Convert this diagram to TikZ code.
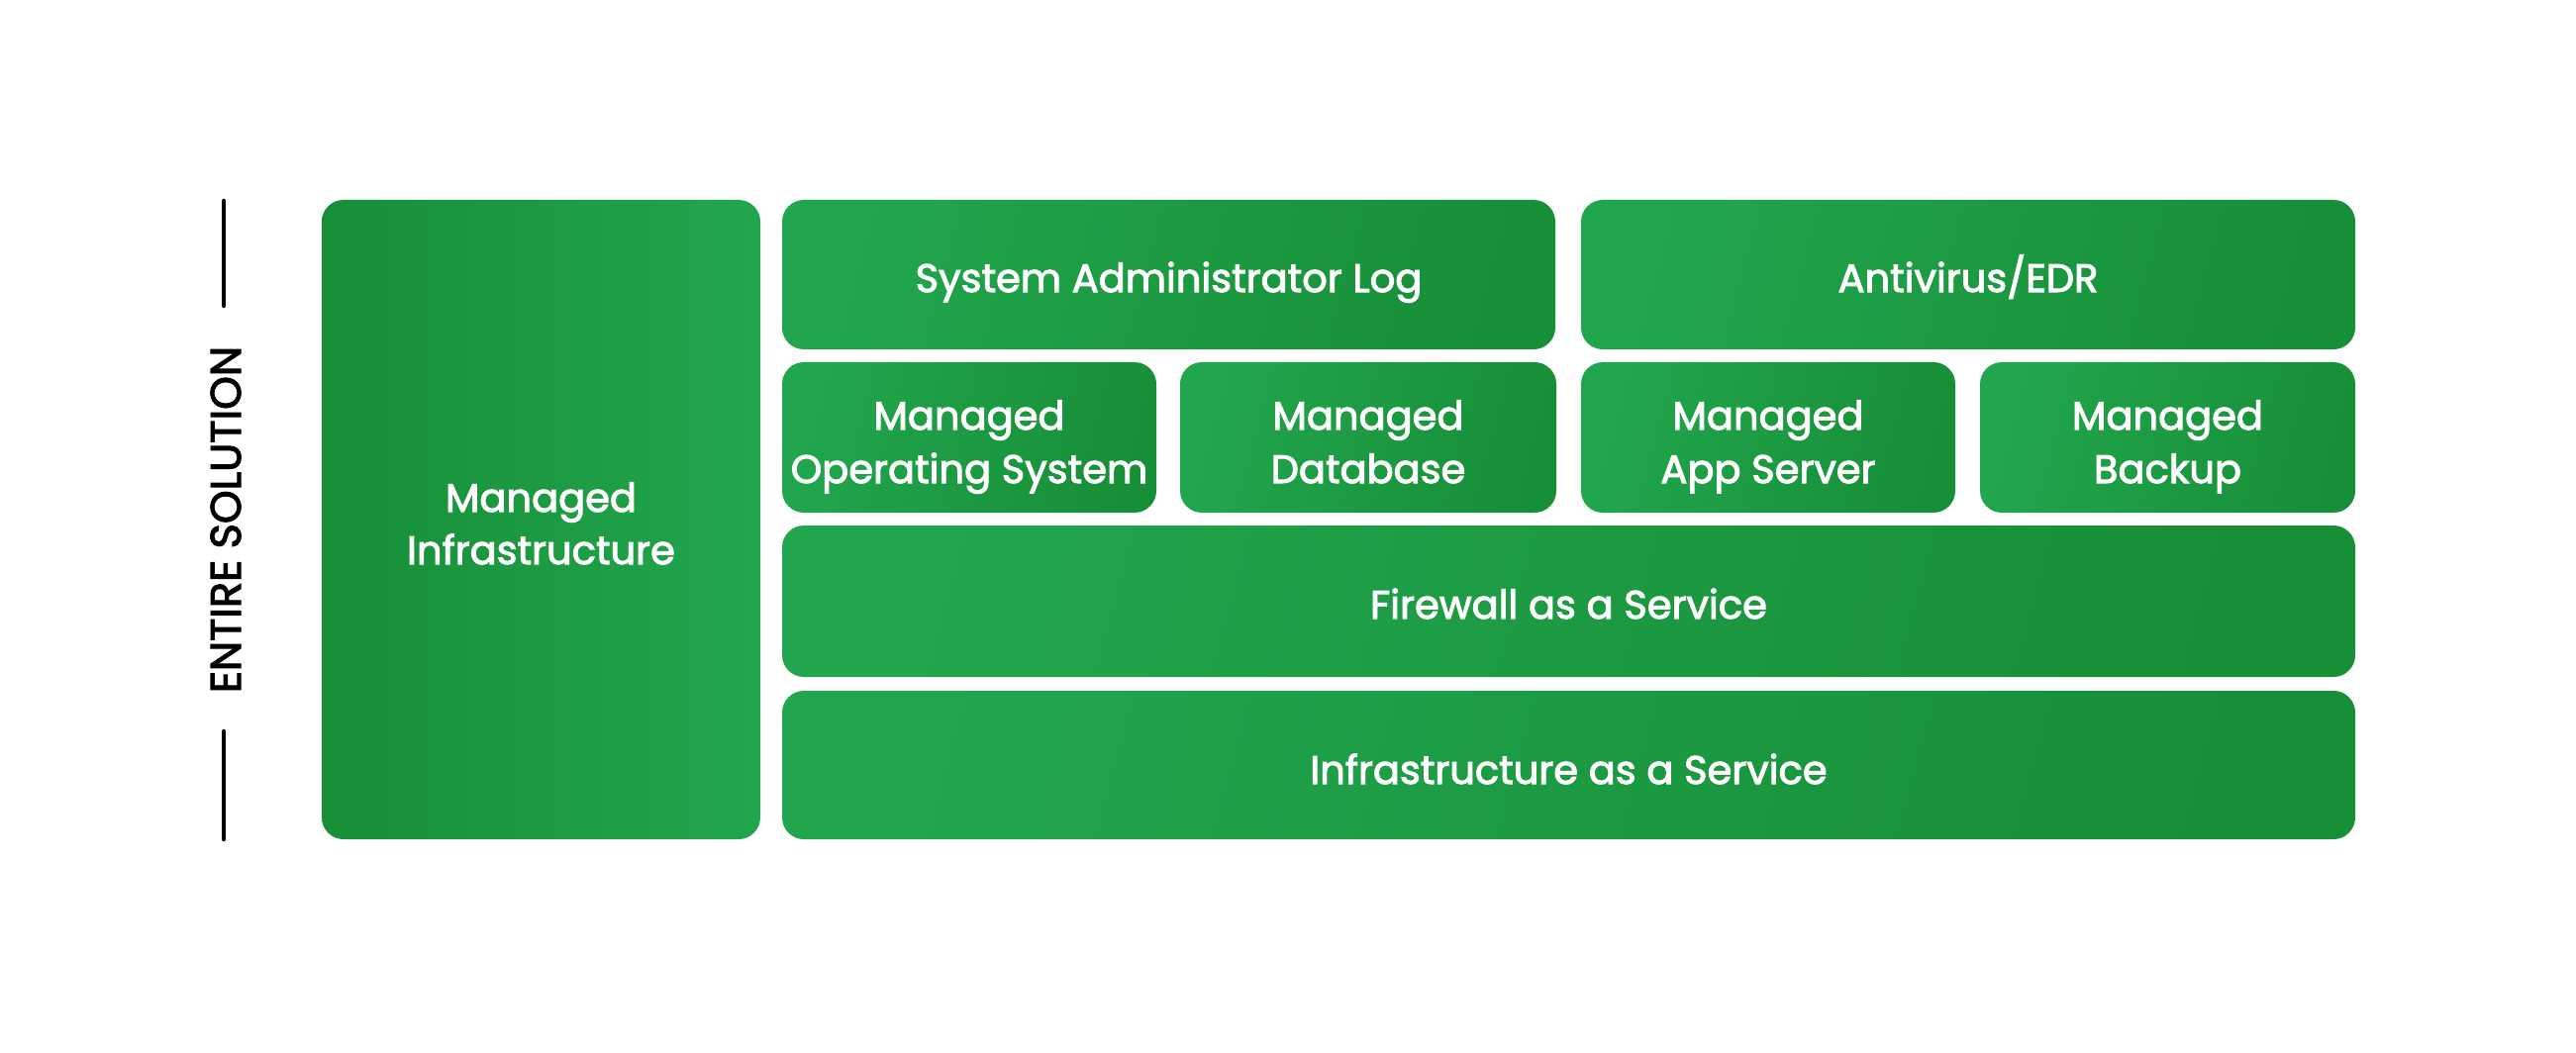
\documentclass[tikz,border=0pt]{standalone}
\usepackage{fontspec}
\setmainfont{Poppins}
\newfontfamily\medfont{Poppins}[FakeBold=2.5]
\definecolor{glight}{HTML}{21A64D}
\definecolor{gdark}{HTML}{178F37}
\tikzset{
  blk/.style={rounded corners=22pt, inner sep=0pt, left color=glight, right color=gdark, shading angle=75},
  blkl/.style={blk, left color=gdark, right color=glight, shading angle=90},
  txt/.style={inner sep=0pt, anchor=base, text=white, align=center, font=\medfont\fontsize{40}{54}\selectfont},
  sidebar/.style={line width=4.5pt, line cap=round, black}
}
\begin{document}
\begin{tikzpicture}[x=1pt,y=-1pt]
\useasboundingbox (0,0) rectangle (2602,1064);
% left sidebar
\coordinate (t1) at (226,203);
\coordinate (t2) at (226,309);
\coordinate (b1) at (226,739);
\coordinate (b2) at (226,848);
\draw[sidebar] (t1) -- (t2);
\draw[sidebar] (b1) -- (b2);
\node[rotate=90, font=\medfont\fontsize{43}{48}\selectfont, text=black, inner sep=0pt] (lab) at (228,525) {ENTIRE SOLUTION};
% boxes
\node[blkl, minimum width=443pt, minimum height=646pt] (mi) at (546.5,525) {};
\node[blk, minimum width=781pt, minimum height=151pt] (sal) at (1180.5,277.5) {};
\node[blk, minimum width=782pt, minimum height=151pt] (av) at (1988,277.5) {};
\node[blk, minimum width=378pt, minimum height=152pt] (mos) at (979,442) {};
\node[blk, minimum width=380pt, minimum height=152pt] (mdb) at (1382,442) {};
\node[blk, minimum width=378pt, minimum height=152pt] (mas) at (1786,442) {};
\node[blk, minimum width=379pt, minimum height=152pt] (mbk) at (2189.5,442) {};
\node[blk, minimum width=1589pt, minimum height=153pt] (fw) at (1584.5,607.5) {};
\node[blk, minimum width=1589pt, minimum height=150pt] (iaas) at (1584.5,773) {};
% texts (anchor=base is the baseline of the last line)
\node[txt, font=\medfont\fontsize{40}{53}\selectfont] (mi-t) at (546.5,570) {Managed\\Infrastructure};
\node[txt] (sal-t) at (1180.5,295) {System Administrator Log};
\node[txt] (av-t) at (1988,295) {Antivirus/EDR};
\node[txt] (mos-t) at (979,488) {Managed\\Operating System};
\node[txt] (mdb-t) at (1382,488) {Managed\\Database};
\node[txt] (mas-t) at (1786,488) {Managed\\App Server};
\node[txt] (mbk-t) at (2189.5,488) {Managed\\Backup};
\node[txt] (fw-t) at (1584.5,625) {Firewall as a Service};
\node[txt] (iaas-t) at (1584.5,792) {Infrastructure as a Service};
\end{tikzpicture}
\end{document}
